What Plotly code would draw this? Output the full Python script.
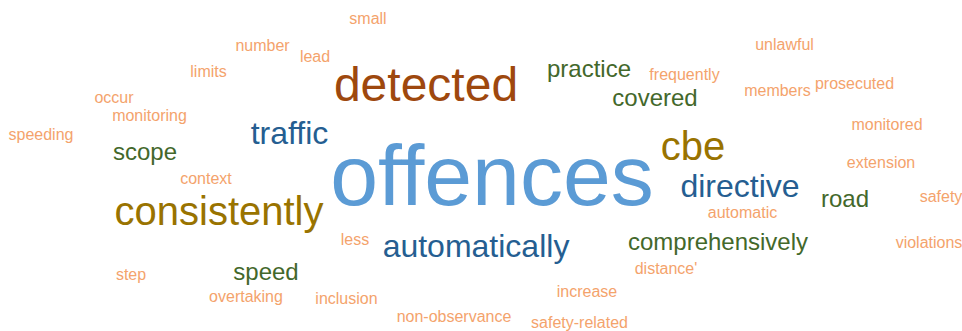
import plotly.graph_objects as go

# word cloud: word, pixel-space centre, font size, colour group
words = ['offences', 'detected', 'consistently', 'cbe',
         'traffic', 'directive', 'automatically',
         'scope', 'practice', 'covered', 'speed', 'road', 'comprehensively',
         'small', 'number', 'lead', 'limits', 'occur', 'monitoring', 'speeding',
         'unlawful', 'frequently', 'members', 'prosecuted', 'monitored', 'extension',
         'context', 'step', 'overtaking', 'inclusion', 'less', 'increase',
         'non-observance', 'safety-related', 'safety', 'automatic', 'violations', "distance'"]
x_pos = [492, 426, 219, 693,
         289.5, 740, 476,
         145, 589, 655, 266, 845, 718,
         368, 262.5, 315, 208.5, 114, 149.5, 41,
         784.5, 684.5, 777.5, 854.5, 887, 881,
         206, 131, 246, 346.5, 355, 587,
         454, 579.5, 941, 742.5, 929, 666]
y_pos = [183, 88.7, 215, 150,
         136, 188.7, 248.7,
         154, 71.3, 100, 274, 201.3, 244,
         20, 46.7, 57.7, 72.7, 98.7, 116.7, 136,
         46, 76, 92, 84.7, 126, 164,
         180, 276, 298.3, 300.3, 241, 292.7,
         317.7, 324, 197.7, 214.3, 243.7, 270.3]
sizes = [86, 48, 40, 40,
         32, 32, 32,
         24, 24, 24, 24, 24, 24] + [16] * 25
groups = ['blue_l', 'brown', 'gold', 'gold',
          'blue_d', 'blue_d', 'blue_d',
          'green', 'green', 'green', 'green', 'green', 'green'] + ['orange'] * 25

COLORS = {'blue_l': '#5b9bd5', 'brown': '#9e480e', 'gold': '#997300',
          'blue_d': '#255e91', 'green': '#43682b', 'orange': '#f4a36c'}

fig = go.Figure()
fig.add_trace(go.Scatter(
    x=x_pos, y=y_pos, text=words, mode='text', textposition='middle center',
    textfont=dict(family='Liberation Sans, Arial, sans-serif', size=sizes,
                  color=[COLORS[g] for g in groups]),
    hoverinfo='text', showlegend=False, cliponaxis=False))

fig.update_layout(
    width=962, height=331, margin=dict(l=0, r=0, t=0, b=0),
    paper_bgcolor='white', plot_bgcolor='white',
    xaxis=dict(range=[0, 962], visible=False, fixedrange=True),
    yaxis=dict(range=[331, 0], visible=False, fixedrange=True))

# drop the browser's default 8px body margin so the chart sits at the corner
fig.write_html('out.html', config={'displayModeBar': False},
               post_script="document.body.style.margin='0';")
